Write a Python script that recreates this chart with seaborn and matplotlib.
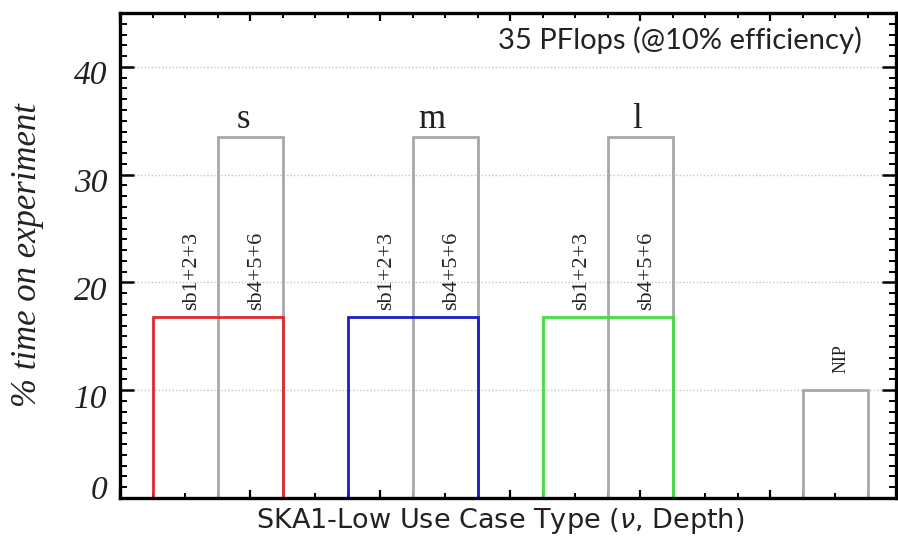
import numpy as np
import pandas as pd
import seaborn as sns
import matplotlib
matplotlib.use("Agg")
import matplotlib.pyplot as plt
from matplotlib.ticker import MultipleLocator, NullFormatter
from matplotlib.transforms import ScaledTranslation

# ---- data ----
case_types = ["s", "m", "l"]
colored_x = [0.75, 2.25, 3.75]          # centres of sb1..6 combined bars
colored_h = [16.75, 16.75, 16.75]
gray_x = [1.0, 2.5, 4.0, 5.5]           # centres of sb4+5+6 bars and NIP
gray_h = [33.5, 33.5, 33.5, 10.0]
gray_names = ["s", "m", "l", "NIP"]
sub_labels = ["sb1+2+3", "sb4+5+6"]
sub_label_x = [0.55, 1.05, 2.05, 2.55, 3.55, 4.05]
case_label_x = [0.95, 2.4, 3.98]
nip_label_x = 5.55
ytick_vals = [0, 10, 20, 30, 40]

colors = ["#e02a2a", "#1c1cc8", "#45dc45"]
gray = "#a8a8a8"

sns.set_theme(style="ticks")

fig = plt.figure(figsize=(8.98, 5.38), dpi=100)
ax = fig.add_axes([120 / 898, 1 - 498 / 538, (896 - 120) / 898, (498 - 13) / 538])

df_gray = pd.DataFrame({"x": gray_x, "h": gray_h, "name": gray_names})
df_col = pd.DataFrame({"x": colored_x, "h": colored_h, "case": case_types})

sns.barplot(data=df_gray, x="x", y="h", native_scale=True, width=0.5 / 1.5,
            fill=False, color=gray, linewidth=2.0, ax=ax, errorbar=None)
sns.barplot(data=df_col, x="x", y="h", hue="case", hue_order=case_types,
            palette=colors, native_scale=True, width=1.0 / 1.5, dodge=False,
            fill=False, linewidth=2.0, ax=ax, legend=False, errorbar=None)

ax.set_xlim(0, (896 - 120) / 130)
ax.set_ylim(0, 45)

# ticks
ax.xaxis.set_major_locator(MultipleLocator(1))
ax.xaxis.set_minor_locator(MultipleLocator(0.25))
ax.xaxis.set_major_formatter(NullFormatter())
ax.yaxis.set_major_locator(MultipleLocator(10))
ax.yaxis.set_minor_locator(MultipleLocator(1))
ax.tick_params(axis="x", which="major", direction="in", length=6, width=1.6,
               top=True, bottom=True, color="black")
ax.tick_params(axis="x", which="minor", direction="in", length=3.5, width=1.4,
               top=True, bottom=True, color="black")
ax.tick_params(axis="y", which="major", direction="in", length=10, width=1.8,
               left=True, right=True, color="black", pad=9)
ax.tick_params(axis="y", which="minor", direction="in", length=5, width=1.4,
               left=True, right=True, color="black")
ax.set_yticks(ytick_vals)
ax.set_yticklabels([str(v) for v in ytick_vals], fontfamily="Liberation Serif",
                   fontstyle="italic", fontsize=24, color="#222222")
for i, lab in enumerate(ax.get_yticklabels()):
    dy = 8 / 72 if i == 0 else -4 / 72
    lab.set_transform(lab.get_transform() + ScaledTranslation(0, dy, fig.dpi_scale_trans))

for sp in ax.spines.values():
    sp.set_visible(True)
    sp.set_linewidth(2.4)
    sp.set_color("black")
    sp.set_zorder(5)

ax.yaxis.grid(True, linestyle=(0, (1, 1.5)), color="#c4c4c4", linewidth=1.0)
ax.set_axisbelow(True)

ax.set_ylabel("% time on experiment", fontfamily="Liberation Serif",
              fontstyle="italic", fontsize=25, color="#222222")
ax.yaxis.set_label_coords((28 - 120) / 776, 0.5)
ax.yaxis.label.set_va("center")
ax.set_xlabel("SKA1-Low Use Case Type ($\\nu$, Depth)", fontfamily="DejaVu Sans",
              fontsize=19.5, color="#222222")
ax.xaxis.set_label_coords(0.49, -(521 - 498) / 485)
ax.xaxis.label.set_va("center")

# annotations
for i, xx in enumerate(sub_label_x):
    ax.text(xx, 17.4, sub_labels[i % 2], rotation=90, ha="center", va="bottom",
            fontfamily="Liberation Serif", fontsize=16, color="#222222")
for xx, name in zip(case_label_x, case_types):
    ax.text(xx, 34.3, name, ha="center", va="baseline",
            fontfamily="Liberation Serif", fontsize=25, color="#222222")
ax.text(nip_label_x, 11.6, "NIP", rotation=90, ha="center", va="bottom",
        fontfamily="Liberation Serif", fontsize=13, color="#222222")
ax.text((862 - 120) / 130, 41.7, "35 PFlops (@10% efficiency)", ha="right",
        va="baseline", fontfamily="Lato", fontsize=21, color="#222222")

fig.savefig("out.png", dpi=100)
